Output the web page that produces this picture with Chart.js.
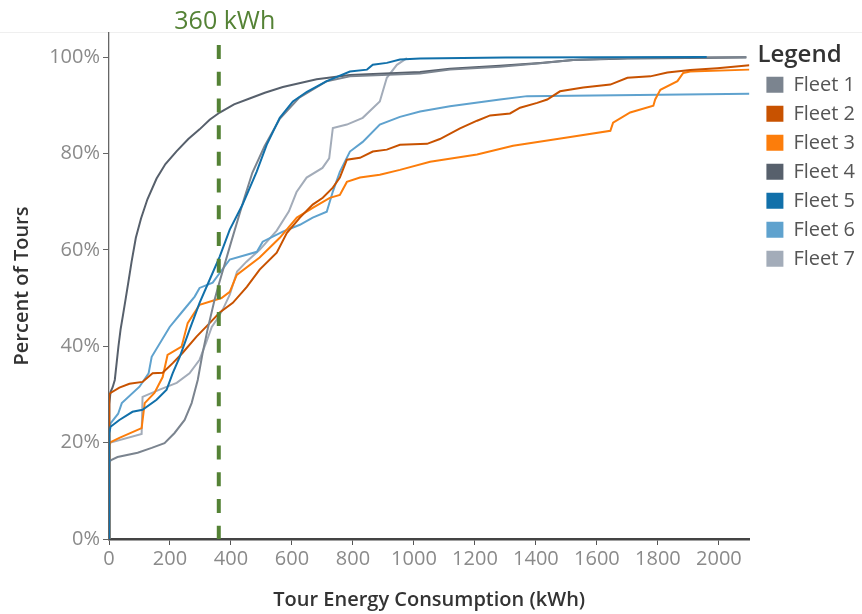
<!DOCTYPE html>
<html><head><meta charset="utf-8">
<script src="https://cdn.jsdelivr.net/npm/chart.js@4/dist/chart.umd.min.js"></script>
<style>html,body{margin:0;padding:0;background:#fff}#wrap{width:862px;height:614px;position:relative}</style>
</head><body><div id="wrap"><canvas id="c"></canvas></div>
<script>
// ---- data (kWh, % of tours) ----
const fleetNames = ['Fleet 1','Fleet 2','Fleet 3','Fleet 4','Fleet 5','Fleet 6','Fleet 7'];
const xTickValues = [0,200,400,600,800,1000,1200,1400,1600,1800,2000];
const yTickValues = [0,20,40,60,80,100];
const thresholdKWh = 360;
const thresholdLabel = '360 kWh';
const thresholdTop = 102.5;

const fleet1 = [[0,0],[1,16],[7,16.4],[28,17],[94,17.9],[140,18.9],[182,19.9],[215,22],[248,24.7],[271,28.2],[291,33],[307,38.6],[323,43.4],[346,49.6],[363,53.5],[400,61.5],[440,70],[470,76],[510,81.5],[560,87.2],[624,91.6],[714,95],[790,96],[1020,96.6],[1118,97.4],[1282,98],[1414,98.7],[1522,99.4],[1700,99.8],[2090,100]];
const fleet2 = [[0,0],[1,30],[5,30.3],[34,31.4],[67,32.2],[110,32.6],[143,34.4],[176,34.5],[209,36.5],[241,38.6],[287,42],[330,44.8],[363,47],[406,49],[452,52.3],[494,55.9],[550,59.4],[583,63.5],[626,66.7],[668,69.4],[701,70.8],[734,72.9],[757,75],[780,78.7],[823,79.1],[865,80.4],[911,80.8],[954,81.8],[1043,82],[1085,83],[1151,85.2],[1207,86.8],[1250,87.9],[1315,88.3],[1348,89.5],[1404,90.5],[1437,91.2],[1479,92.9],[1555,93.7],[1644,94.3],[1700,95.7],[1775,96],[1831,96.8],[1906,97.3],[1995,97.7],[2100,98.3]];
const fleet3 = [[0,0],[1,19.5],[5,20.1],[34,21],[107,23],[117,28.2],[149,30.3],[176,33.6],[192,38.2],[238,39.9],[258,44.8],[297,48.6],[369,50],[396,51.3],[419,54.8],[494,58.4],[560,62.5],[616,66.7],[668,68.7],[724,70.8],[757,71.4],[780,74.1],[823,75],[888,75.6],[954,76.6],[1053,78.3],[1207,79.8],[1325,81.6],[1502,83.3],[1644,84.7],[1653,86.4],[1709,88.5],[1785,89.9],[1791,91.2],[1808,93.2],[1864,95],[1883,96.7],[1906,97],[2100,97.4]];
const fleet4 = [[0,0],[1,28],[5,30.5],[12,31.5],[19,33],[25,36.5],[31,40],[38,43.5],[46,46.5],[55,50],[64,53.5],[74,57.5],[88,62.5],[105,66.5],[126,70.5],[156,74.8],[185,77.8],[222,80.5],[260,83],[297,85],[330,87],[363,88.5],[410,90.2],[461,91.4],[511,92.6],[570,93.8],[681,95.4],[790,96.3],[1020,96.9],[1118,97.6],[1282,98.2],[1414,98.8],[1522,99.4],[1700,99.7],[2090,99.9]];
const fleet5 = [[0,0],[1,22],[5,23.3],[34,24.7],[77,26.4],[110,26.8],[156,28.9],[189,31],[209,34.4],[232,37.8],[264,43.4],[297,49],[330,53.8],[363,58.6],[396,64.2],[438,69.4],[484,76.2],[517,81.8],[560,87.4],[603,90.8],[649,92.8],[714,95],[790,97],[846,97.4],[865,98.4],[911,98.8],[954,99.5],[1020,99.7],[1300,99.9],[1960,100]];
const fleet6 = [[0,0],[1,22],[5,24],[30,26],[42,28.2],[100,31.6],[130,34.4],[140,37.8],[199,44],[238,47],[281,50.3],[297,52.1],[340,53.2],[363,55.2],[396,58],[485,59.6],[504,61.7],[570,63.8],[626,65.2],[668,66.7],[714,67.9],[734,72.1],[757,76.2],[790,80.4],[832,82.4],[888,86],[954,87.6],[1020,88.7],[1118,89.8],[1282,91.2],[1371,91.9],[2100,92.4]];
const fleet7 = [[0,0],[1,19.5],[5,20],[107,21.8],[110,29.5],[166,31],[222,32.4],[264,34.4],[297,37.2],[320,41],[337,44],[353,45.5],[373,47.6],[396,50.7],[420,55.5],[450,57.5],[494,60],[550,64],[590,68],[615,72],[648,75],[700,77],[722,79],[734,85.3],[780,86],[832,87.4],[888,90.8],[911,95.7],[944,98.4],[977,99.8]];
const fleetSeries = [fleet1, fleet2, fleet3, fleet4, fleet5, fleet6, fleet7];

// ---- styles ----
const fleetColors = ['#7B848F','#C85200','#FC7D0B','#57606C','#1170AA','#5FA2CE','#A3ACB9'];
const fleetOrder = [0,0,0,0,-1,0,0];
const FONT = '"Open Sans", "Noto Sans", sans-serif';

const datasets = fleetSeries.map((s, i) => ({
  label: fleetNames[i],
  data: s.map(p => ({x: p[0], y: p[1]})),
  borderColor: fleetColors[i],
  backgroundColor: fleetColors[i],
  borderWidth: 2,
  pointRadius: 0,
  tension: 0,
  order: fleetOrder[i]
}));
datasets.push({
  label: thresholdLabel,
  data: [{x: thresholdKWh, y: thresholdTop}, {x: thresholdKWh, y: 0}],
  borderColor: '#548235',
  backgroundColor: '#548235',
  borderWidth: 4,
  borderDash: [14, 12.7],
  pointRadius: 0,
  order: -2
});

const extras = {
  id: 'extras',
  afterLayout(chart) {
    const lg = chart.legend;
    if (lg) { lg.left += 8; lg.right += 8; }
  },
  beforeDraw(chart) {
    const {ctx, chartArea} = chart;
    ctx.save();
    ctx.strokeStyle = '#efefef';
    ctx.lineWidth = 1;
    ctx.beginPath();
    ctx.moveTo(0, chartArea.top - 0.5);
    ctx.lineTo(chart.width, chartArea.top - 0.5);
    ctx.stroke();
    ctx.restore();
  },
  afterDraw(chart) {
    const {ctx} = chart;
    const px = chart.scales.x.getPixelForValue(thresholdKWh);
    ctx.save();
    ctx.font = '25px ' + FONT;
    ctx.fillStyle = '#548235';
    ctx.textAlign = 'center';
    ctx.textBaseline = 'middle';
    ctx.fillText(thresholdLabel, px + 6, 22);
    ctx.restore();
  }
};

new Chart(document.getElementById('c'), {
  type: 'line',
  data: {datasets},
  options: {
    responsive: true,
    maintainAspectRatio: false,
    animation: false,
    devicePixelRatio: 1,
    layout: {padding: {top: 33, right: 5, bottom: 0, left: 0}},
    plugins: {
      tooltip: {enabled: false},
      legend: {
        position: 'right',
        align: 'start',
        title: {display: true, position: 'start', text: 'Legend', color: '#333', font: {size: 24, weight: '600', family: FONT}, padding: {top: 10, bottom: -6}},
        labels: {
          boxWidth: 17, boxHeight: 16, color: '#555', padding: 9,
          font: {size: 20, family: FONT},
          generateLabels(chart) {
            return Chart.defaults.plugins.legend.labels.generateLabels(chart)
              .filter(it => it.datasetIndex < fleetNames.length)
              .sort((a, b) => a.datasetIndex - b.datasetIndex)
              .map(it => Object.assign(it, {lineWidth: 0}));
          }
        }
      }
    },
    scales: {
      x: {
        type: 'linear', min: 0, max: 2100,
        afterFit(s) { s.height = 75; },
        afterBuildTicks(s) { s.ticks = xTickValues.map(v => ({value: v})); },
        ticks: {color: '#8a8a8a', font: {size: 20, family: FONT}, padding: 2, maxRotation: 0, autoSkip: false, callback: v => String(v)},
        grid: {drawOnChartArea: false, drawTicks: true, tickLength: 6, color: '#555'},
        border: {display: true, color: '#444', width: 2.5},
        title: {display: true, text: 'Tour Energy Consumption (kWh)', color: '#333', font: {size: 20, weight: '600', family: FONT}, padding: {top: 0, bottom: 2}}
      },
      y: {
        type: 'linear', min: 0, max: 105,
        afterFit(s) { s.width = 109; },
        afterBuildTicks(s) { s.ticks = yTickValues.map(v => ({value: v})); },
        ticks: {color: '#8a8a8a', font: {size: 20, family: FONT}, padding: 3, callback: v => v + '%'},
        grid: {drawOnChartArea: false, drawTicks: true, tickLength: 6, color: '#666'},
        border: {display: true, color: '#666', width: 1.3},
        title: {display: true, text: 'Percent of Tours', color: '#333', font: {size: 20, weight: '600', family: FONT}, padding: {top: 10, bottom: 0}}
      }
    }
  },
  plugins: [extras]
});
</script></body></html>
